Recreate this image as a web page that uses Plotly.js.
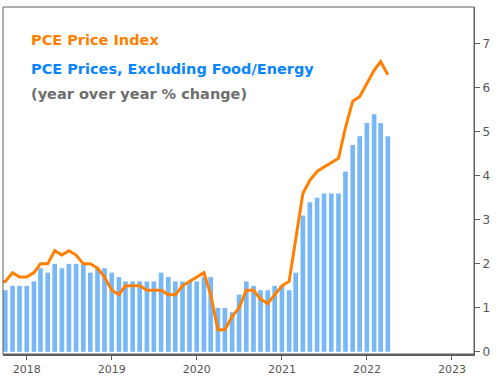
<!DOCTYPE html>
<html>
<head>
<meta charset="utf-8">
<script src="https://cdn.plot.ly/plotly-3.0.1.min.js"></script>
<style>html,body{margin:0;padding:0;background:#fff;}#chart{width:503px;height:376px;}</style>
</head>
<body>
<div id="chart"></div>
<script>
// Monthly dates (bars: Oct 2017 - Apr 2022)
const coreMonths = [
  "2017-10-01","2017-11-01","2017-12-01",
  "2018-01-01","2018-02-01","2018-03-01","2018-04-01","2018-05-01","2018-06-01","2018-07-01","2018-08-01","2018-09-01","2018-10-01","2018-11-01","2018-12-01",
  "2019-01-01","2019-02-01","2019-03-01","2019-04-01","2019-05-01","2019-06-01","2019-07-01","2019-08-01","2019-09-01","2019-10-01","2019-11-01","2019-12-01",
  "2020-01-01","2020-02-01","2020-03-01","2020-04-01","2020-05-01","2020-06-01","2020-07-01","2020-08-01","2020-09-01","2020-10-01","2020-11-01","2020-12-01",
  "2021-01-01","2021-02-01","2021-03-01","2021-04-01","2021-05-01","2021-06-01","2021-07-01","2021-08-01","2021-09-01","2021-10-01","2021-11-01","2021-12-01",
  "2022-01-01","2022-02-01","2022-03-01","2022-04-01"
];
// PCE excluding food/energy (bars)
const coreValues = [
  1.4, 1.5, 1.5,
  1.5, 1.6, 1.9, 1.8, 2.0, 1.9, 2.0, 2.0, 2.0, 1.8, 1.9, 1.9,
  1.8, 1.7, 1.6, 1.6, 1.6, 1.6, 1.6, 1.8, 1.7, 1.6, 1.6, 1.6,
  1.6, 1.7, 1.7, 1.0, 1.0, 0.9, 1.3, 1.6, 1.5, 1.4, 1.4, 1.5,
  1.5, 1.4, 1.8, 3.1, 3.4, 3.5, 3.6, 3.6, 3.6, 4.1, 4.7, 4.9,
  5.2, 5.4, 5.2, 4.9
];
// Headline PCE (line: Sep 2017 - Apr 2022)
const pceMonths = [
  "2017-09-01","2017-10-01","2017-11-01","2017-12-01",
  "2018-01-01","2018-02-01","2018-03-01","2018-04-01","2018-05-01","2018-06-01","2018-07-01","2018-08-01","2018-09-01","2018-10-01","2018-11-01","2018-12-01",
  "2019-01-01","2019-02-01","2019-03-01","2019-04-01","2019-05-01","2019-06-01","2019-07-01","2019-08-01","2019-09-01","2019-10-01","2019-11-01","2019-12-01",
  "2020-01-01","2020-02-01","2020-03-01","2020-04-01","2020-05-01","2020-06-01","2020-07-01","2020-08-01","2020-09-01","2020-10-01","2020-11-01","2020-12-01",
  "2021-01-01","2021-02-01","2021-03-01","2021-04-01","2021-05-01","2021-06-01","2021-07-01","2021-08-01","2021-09-01","2021-10-01","2021-11-01","2021-12-01",
  "2022-01-01","2022-02-01","2022-03-01","2022-04-01"
];
const pceValues = [
  1.6, 1.6, 1.8, 1.7,
  1.7, 1.8, 2.0, 2.0, 2.3, 2.2, 2.3, 2.2, 2.0, 2.0, 1.9, 1.7,
  1.4, 1.3, 1.5, 1.5, 1.5, 1.4, 1.4, 1.4, 1.3, 1.3, 1.5, 1.6,
  1.7, 1.8, 1.3, 0.5, 0.5, 0.8, 1.0, 1.4, 1.4, 1.2, 1.1, 1.3,
  1.5, 1.6, 2.5, 3.6, 3.9, 4.1, 4.2, 4.3, 4.4, 5.1, 5.7, 5.8,
  6.1, 6.4, 6.6, 6.3
];
const yTicks = [0, 1, 2, 3, 4, 5, 6, 7];
const labels = ["PCE Price Index", "PCE Prices, Excluding Food/Energy", "(year over year % change)"];

const ORANGE = "#ff8000", BLUE = "#0a84ff", BAR = "#78b8f6", GRAY = "#6e6e6e", AX = "#5f5f5f";
const DAY = 86400000;

const traces = [
  {type: "bar", x: coreMonths, y: coreValues, width: coreMonths.map(() => 20 * DAY),
   marker: {color: BAR}, hoverinfo: "skip"},
  {type: "scatter", mode: "lines", x: pceMonths, y: pceValues,
   line: {color: ORANGE, width: 3}, hoverinfo: "skip"},
  {type: "scatter", mode: "markers", xaxis: "x2", x: [1.0106], y: [pceValues[pceValues.length - 1]],
   marker: {symbol: "diamond", size: 8, color: ORANGE}, cliponaxis: false, hoverinfo: "skip"},
  {type: "scatter", mode: "markers", xaxis: "x2", x: [1.0106], y: [coreValues[coreValues.length - 1]],
   marker: {symbol: "diamond", size: 8, color: BLUE}, cliponaxis: false, hoverinfo: "skip"}
];

const fontT = "DejaVu Sans, Verdana, sans-serif";
const layout = {
  width: 503, height: 376,
  margin: {l: 3, r: 29, t: 7, b: 22, pad: 0},
  paper_bgcolor: "#fff", plot_bgcolor: "#fff",
  showlegend: false,
  xaxis: {
    type: "date", range: ["2017-09-21", "2023-04-06"],
    tick0: "2018-01-01", dtick: "M12", tickformat: "%Y",
    ticks: "outside", ticklen: 4, tickcolor: AX, tickwidth: 1,
    showline: true, linecolor: AX, linewidth: 2, showgrid: false, zeroline: false,
    tickfont: {family: fontT, size: 11, color: "#555"}
  },
  xaxis2: {overlaying: "x", range: [0, 1], visible: false, fixedrange: true},
  yaxis: {
    side: "right", range: [-0.05, 7.84], tickvals: yTicks,
    ticks: "outside", ticklen: 5, tickcolor: AX, tickwidth: 1,
    showline: true, linecolor: AX, linewidth: 1, showgrid: false, zeroline: false,
    tickfont: {family: fontT, size: 12, color: "#555"}
  },
  shapes: [
    {type: "rect", xref: "paper", yref: "paper", x0: 0, x1: 1, y0: 0, y1: 1,
     line: {color: AX, width: 1}, fillcolor: "rgba(0,0,0,0)", layer: "above"}
  ],
  annotations: [
    {xref: "paper", yref: "paper", x: 0.055, y: 0.9035, xanchor: "left", yanchor: "middle", showarrow: false,
     text: "<b>" + labels[0] + "</b>", font: {family: fontT, size: 14.5, color: ORANGE}},
    {xref: "paper", yref: "paper", x: 0.055, y: 0.8213, xanchor: "left", yanchor: "middle", showarrow: false,
     text: "<b>" + labels[1] + "</b>", font: {family: fontT, size: 14.5, color: BLUE}},
    {xref: "paper", yref: "paper", x: 0.055, y: 0.749, xanchor: "left", yanchor: "middle", showarrow: false,
     text: "<b>" + labels[2] + "</b>", font: {family: fontT, size: 14.5, color: GRAY}}
  ]
};

Plotly.newPlot("chart", traces, layout, {staticPlot: true, displayModeBar: false});
</script>
</body>
</html>
